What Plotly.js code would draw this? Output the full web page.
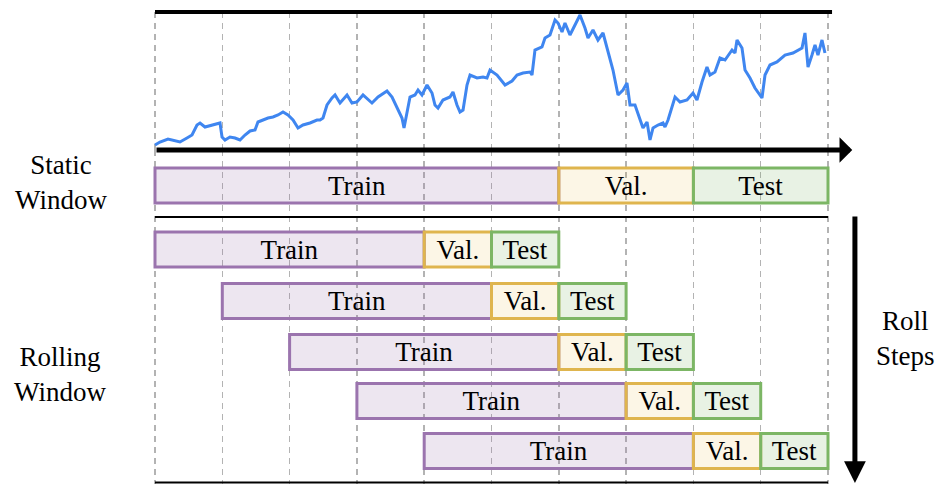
<!DOCTYPE html>
<html><head><meta charset="utf-8">
<script src="https://cdn.plot.ly/plotly-3.0.1.min.js"></script>
<style>html,body{margin:0;padding:0;background:#fff}
#chart{width:940px;height:484px}
#chart text, #chart tspan {font-family:'Liberation Serif','Times New Roman',serif !important;}</style>
</head><body><div id="chart"></div>
<script>
// ---- data ----
const timeSteps = [
  0, 0.74, 1.93, 2.67, 3.71, 4.75, 5.50, 6.24, 6.69, 7.43,
  8.47, 9.66, 9.96, 10.40, 11.14, 11.89, 12.63, 13.37, 14.12, 14.86,
  15.30, 16.05, 16.79, 17.53, 18.28, 19.02, 19.76, 20.51, 21.25, 21.99,
  23.03, 24.07, 24.52, 24.96, 25.56, 26.30, 26.75, 27.49, 28.53, 29.27,
  30.01, 30.91, 32.24, 33.14, 34.47, 35.22, 35.96, 36.70, 37.00, 37.44,
  37.89, 38.63, 39.08, 39.67, 40.42, 41.16, 41.60, 42.05, 42.79, 43.83,
  44.28, 44.87, 45.32, 45.77, 46.36, 46.81, 47.85, 48.74, 49.33, 49.78,
  50.22, 50.82, 52.01, 53.05, 53.79, 54.68, 55.72, 56.02, 56.46, 57.50,
  57.95, 58.69, 59.44, 59.88, 60.48, 60.92, 61.66, 62.41, 63.15, 63.89,
  64.34, 65.08, 65.82, 66.57, 67.16, 67.61, 68.05, 68.80, 69.54, 70.13,
  70.58, 71.32, 72.07, 72.51, 73.11, 73.55, 74.00, 74.74, 75.48, 75.78,
  76.23, 76.82, 77.27, 78.01, 79.05, 79.94, 80.53, 81.28, 82.02, 82.47,
  83.21, 83.95, 84.70, 85.74, 86.18, 86.48, 87.22, 87.67, 88.41, 89.15,
  89.90, 90.19, 90.64, 91.38, 92.42, 93.61, 94.80, 96.14, 96.58, 97.03,
  97.62, 98.07, 98.51, 99.11, 99.55
];
const priceValues = [
  5, 8, 11, 10, 8, 12, 15, 25, 27, 23,
  25, 27, 13, 10, 13, 12, 10, 15, 19, 20,
  28, 30, 32, 33, 35, 38, 35, 30, 22, 25,
  27, 30, 30, 32, 45, 52, 55, 47, 55, 47,
  48, 55, 47, 53, 59, 53, 43, 32, 22, 38,
  53, 55, 60, 55, 65, 57, 45, 42, 50, 53,
  58, 45, 38, 40, 65, 75, 72, 73, 72, 80,
  78, 75, 65, 69, 75, 77, 78, 75, 100, 103,
  112, 115, 130, 127, 118, 127, 115, 125, 135, 122,
  112, 120, 110, 117, 102, 90, 80, 55, 60, 67,
  45, 45, 30, 22, 28, 10, 22, 25, 27, 23,
  30, 42, 53, 48, 50, 57, 50, 68, 83, 75,
  78, 92, 90, 100, 97, 110, 102, 80, 72, 62,
  55, 52, 75, 85, 88, 95, 97, 102, 117, 83,
  95, 105, 95, 110, 97
];
const windowRows = ['Static', 'Roll 1', 'Roll 2', 'Roll 3', 'Roll 4', 'Roll 5'];
const trainStart = [0, 0, 10, 20, 30, 40];
const trainEnd   = [60, 40, 50, 60, 70, 80];
const valEnd     = [80, 50, 60, 70, 80, 90];
const testEnd    = [100, 60, 70, 80, 90, 100];
const segmentLabels = ['Train', 'Val.', 'Test'];
const gridTicks = [0, 10, 20, 30, 40, 50, 60, 70, 80, 90, 100];

// ---- layout helpers (positions / styles) ----
const W = 940, H = 484;
const rowY = [185.5, 249.5, 301, 352, 401, 451]; // vertical slots on y2 (pixel-like units)
const pyFrac = px => 1 - px / H;
const txtFont = () => ({family: 'Times New Roman', size: 27, color: '#000000'});

const segStyles = [
  {fill: 'rgba(155,114,174,0.18)', line: '#9b74ae'},
  {fill: 'rgba(232,182,60,0.13)', line: '#dfb54e'},
  {fill: 'rgba(120,180,95,0.17)', line: '#7cb665'}
];
const starts = [trainStart, trainEnd, valEnd];
const ends = [trainEnd, valEnd, testEnd];

const traces = [{
  type: 'scatter', mode: 'lines', x: timeSteps, y: priceValues,
  xaxis: 'x', yaxis: 'y', line: {color: '#3f86f0', width: 3},
  cliponaxis: false, hoverinfo: 'skip', showlegend: false
}];
segmentLabels.forEach((segName, k) => {
  traces.push({
    type: 'bar', orientation: 'h', xaxis: 'x', yaxis: 'y2',
    y: rowY, base: starts[k], x: ends[k].map((e, i) => e - starts[k][i]),
    width: 35,
    marker: {color: segStyles[k].fill, line: {color: segStyles[k].line, width: 3}},
    text: windowRows.map(() => segName), textposition: 'inside', insidetextanchor: 'middle',
    textangle: 0, constraintext: 'none',
    textfont: txtFont(),
    hoverinfo: 'skip', showlegend: false
  });
});

const xr0 = -155 / 6.73, xr1 = (W - 155) / 6.73;
const sideLabel = (x, y, text) => ({xref: 'x', yref: 'y2', x: x, y: y, text: text, showarrow: false,
  xanchor: 'center', yanchor: 'middle', font: txtFont()});

const layout = {
  width: W, height: H, margin: {l: 0, r: 0, t: 0, b: 0},
  paper_bgcolor: '#fff', plot_bgcolor: '#fff', barmode: 'overlay', showlegend: false,
  font: {family: 'Times New Roman', size: 27, color: '#000000'},
  xaxis: {range: [xr0, xr1], domain: [0, 1], tickmode: 'array', tickvals: gridTicks,
    showgrid: true, gridcolor: '#b3b3b3', gridwidth: 1.5, griddash: '6px,5px',
    showticklabels: false, zeroline: false, showline: false, ticks: '', fixedrange: true},
  yaxis: {domain: [pyFrac(150), pyFrac(12)], range: [0, 138], showgrid: false,
    zeroline: false, showticklabels: false, showline: false, ticks: '', fixedrange: true},
  yaxis2: {domain: [0, pyFrac(150)], range: [H, 150], anchor: 'x', showgrid: false,
    zeroline: false, showticklabels: false, showline: false, ticks: '', fixedrange: true},
  shapes: [
    {type: 'line', xref: 'x', yref: 'paper', x0: 0, x1: 100.6, y0: pyFrac(12), y1: pyFrac(12), line: {color: '#000', width: 4}},
    {type: 'line', xref: 'x', yref: 'paper', x0: 0, x1: 100, y0: pyFrac(217), y1: pyFrac(217), line: {color: '#000', width: 2}},
    {type: 'line', xref: 'x', yref: 'paper', x0: 0, x1: 100, y0: pyFrac(482.5), y1: pyFrac(482.5), line: {color: '#000', width: 2}}
  ],
  annotations: [
    {xref: 'x', yref: 'y', x: 103.6, y: 0, axref: 'x', ayref: 'y', ax: 0, ay: 0, text: '',
      showarrow: true, arrowhead: 1, arrowsize: 0.85, arrowwidth: 5, arrowcolor: '#000', standoff: 0},
    {xref: 'x', yref: 'y2', x: 104.0, y: 483, axref: 'x', ayref: 'y2', ax: 104.0, ay: 215, text: '',
      showarrow: true, arrowhead: 2, arrowsize: 0.87, arrowwidth: 5, arrowcolor: '#000', standoff: 0},
    sideLabel(-13.95, 183, 'Static<br>Window'),
    sideLabel(-14.1, 374, 'Rolling<br>Window'),
    sideLabel(110.7, 144, 'Time<br>Axis'),
    sideLabel(111.5, 338, 'Roll<br>Steps')
  ]
};

Plotly.newPlot('chart', traces, layout, {staticPlot: true});
</script>
</body></html>
